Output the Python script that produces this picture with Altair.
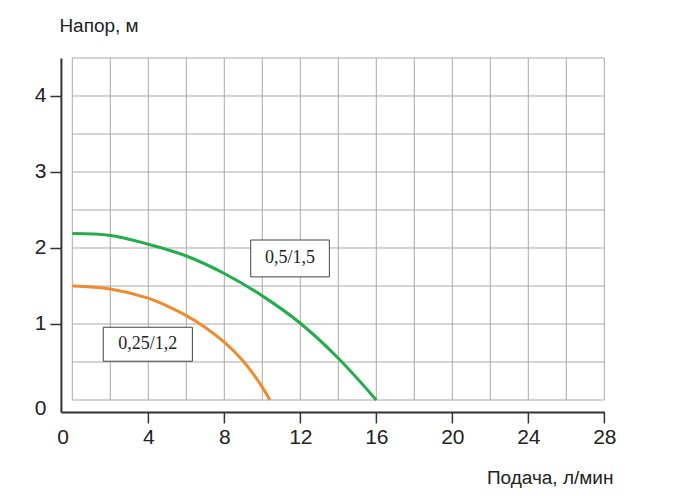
import altair as alt
import pandas as pd

# ---- data ----
green_x = [0, 2, 4, 6, 8, 10, 12, 14, 16]
green_y = [2.19, 2.165, 2.05, 1.895, 1.665, 1.37, 1.01, 0.55, 0.0]
orange_x = [0, 2, 4, 5, 6, 7, 8, 9, 10, 10.4]
orange_y = [1.50, 1.46, 1.34, 1.235, 1.11, 0.955, 0.76, 0.51, 0.17, 0.0]
series_names = ["0,5/1,5", "0,25/1,2"]
series_colors = ["#22ad4a", "#f08a2c"]

x_ticks = [0, 4, 8, 12, 16, 20, 24, 28]
y_ticks = [0, 1, 2, 3, 4]
grid_x = [0, 2, 4, 6, 8, 10, 12, 14, 16, 18, 20, 22, 24, 26, 28]
grid_y = [0, 0.5, 1, 1.5, 2, 2.5, 3, 3.5, 4, 4.5]

label_text = ["0,5/1,5", "0,25/1,2"]
label_x0 = [9.39, 1.63]
label_x1 = [13.53, 6.32]
label_y0 = [1.62, 0.51]
label_y1 = [2.105, 0.957]

# ---- tables ----
curves = pd.DataFrame(
    {"x": green_x + orange_x,
     "y": green_y + orange_y,
     "s": [series_names[0]] * len(green_x) + [series_names[1]] * len(orange_x)}
)
gx = pd.DataFrame({"x": grid_x})
gy = pd.DataFrame({"y": grid_y})
boxes = pd.DataFrame({
    "t": label_text, "x": label_x0, "x2": label_x1, "y": label_y0, "y2": label_y1,
})
boxes["xc"] = (boxes["x"] + boxes["x2"]) / 2
boxes["yc"] = (boxes["y"] + boxes["y2"]) / 2

xs = alt.Scale(domain=[-0.6, 28], nice=False, zero=False)
ys = alt.Scale(domain=[-0.158, 4.5], nice=False, zero=False)

AX = "#333333"
FONT = "Liberation Sans"

x_axis = alt.Axis(
    values=x_ticks, grid=False, title="Подача, л/мин", format="d",
    domainColor=AX, domainWidth=2, tickColor=AX, tickWidth=1.5, tickSize=11,
    tickOpacity={"condition": {"test": "datum.value === 0", "value": 0}, "value": 1},
    labelFont=FONT, labelFontSize=21, labelColor="#222222", labelPadding=4,
    labelOffset={"condition": {"test": "datum.value === 0", "value": -9.6}, "value": 0},
    labelFlush=False, labelOverlap=False,
    titleFont=FONT, titleFontSize=19, titleFontWeight="normal", titleColor="#222222",
    titleAlign="right", titleBaseline="alphabetic", titleAnchor="end", titleX=552, titleY=72,
)
y_axis = alt.Axis(
    values=y_ticks, grid=False, title="Напор, м", format="d",
    domainColor=AX, domainWidth=2, tickColor=AX, tickWidth=1.5, tickSize=11,
    tickOpacity={"condition": {"test": "datum.value === 0", "value": 0}, "value": 1},
    labelFont=FONT, labelFontSize=21, labelColor="#222222", labelPadding=4,
    labelOffset={"condition": {"test": "datum.value === 0", "value": 8.5}, "value": 0},
    labelFlush=False, labelOverlap=False,
    titleFont=FONT, titleFontSize=19, titleFontWeight="normal", titleColor="#222222",
    titleAngle=0, titleAlign="left", titleBaseline="alphabetic", titleX=-2, titleY=-27,
)

vgrid = alt.Chart(gx).mark_rule(color="#a9a9a9", strokeWidth=1).encode(
    x=alt.X("x:Q", scale=xs, axis=x_axis),
    y=alt.Y(datum=0, scale=ys, axis=y_axis),
    y2=alt.Y2(datum=4.5),
)
hgrid = alt.Chart(gy).mark_rule(color="#a9a9a9", strokeWidth=1).encode(
    y=alt.Y("y:Q", scale=ys),
    x=alt.X(datum=0, scale=xs),
    x2=alt.X2(datum=28),
)
lines = alt.Chart(curves).mark_line(strokeWidth=3, interpolate="catmull-rom").encode(
    x=alt.X("x:Q", scale=xs),
    y=alt.Y("y:Q", scale=ys),
    color=alt.Color("s:N", scale=alt.Scale(domain=series_names, range=series_colors), legend=None),
)
rects = alt.Chart(boxes).mark_rect(fill="white", stroke="#444444", strokeWidth=1).encode(
    x=alt.X("x:Q", scale=xs), x2="x2:Q",
    y=alt.Y("y:Q", scale=ys), y2="y2:Q",
)
texts = alt.Chart(boxes).mark_text(
    font="Liberation Serif", fontSize=18, color="#222222", align="center", baseline="middle"
).encode(
    x=alt.X("xc:Q", scale=xs),
    y=alt.Y("yc:Q", scale=ys),
    text="t:N",
)

chart = alt.layer(vgrid, hgrid, lines, rects, texts).properties(
    width=543.4, height=354,
    autosize=alt.AutoSizeParams(type="none"),
    padding={"left": 52.9, "top": 50, "right": 70, "bottom": 80},
).configure_view(stroke=None)

chart.save("out.html", embed_options={"renderer": "svg", "actions": False})
